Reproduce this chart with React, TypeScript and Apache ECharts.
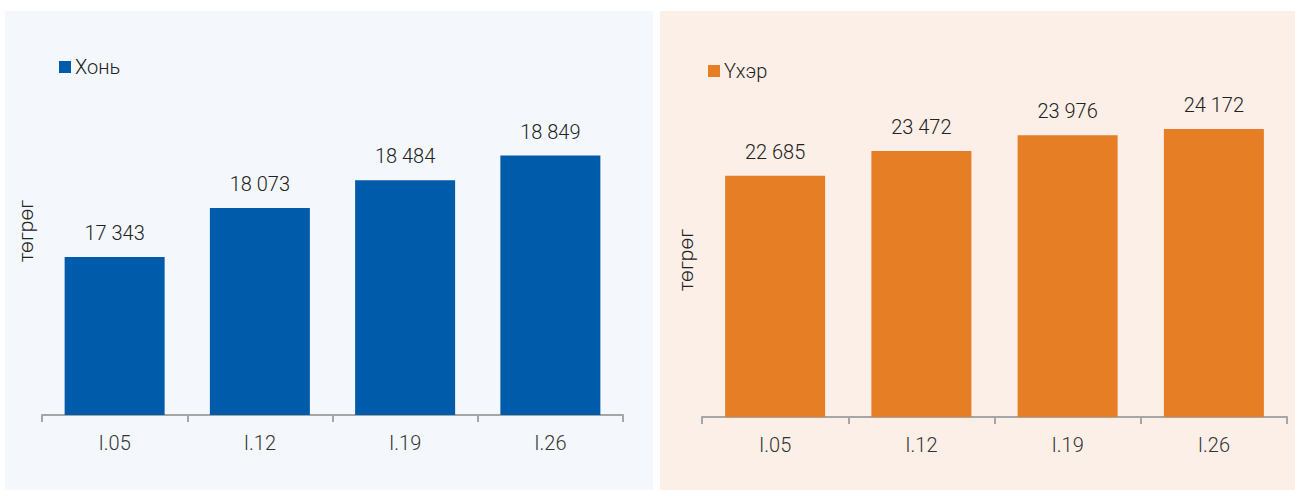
import React, { useEffect, useRef } from "react";
import * as echarts from "echarts";

const categories = ["I.05", "I.12", "I.19", "I.26"];
const sheepValues = [17343, 18073, 18484, 18849];
const cattleValues = [22685, 23472, 23976, 24172];
const sheepName = "Хонь";
const cattleName = "Үхэр";
const unitName = "төгрөг";

const fmt = (v: number) => {
  const s = String(Math.round(v));
  return s.replace(/\B(?=(\d{3})+(?!\d))/g, " ");
};

const FONT = "Roboto";
const W = 300;

export default function App() {
  const ref = useRef<HTMLDivElement>(null);
  useEffect(() => {
    document.body.style.margin = "0";
    const chart = echarts.init(ref.current!, null, { renderer: "svg" });
    const axisLineStyle = { color: "#a6a6a6", width: 2 };
    const xAxisBase = (gridIndex: number) => ({
      type: "category",
      gridIndex,
      data: categories,
      axisLine: { show: true, lineStyle: axisLineStyle },
      axisTick: { show: true, length: 7, lineStyle: axisLineStyle },
      axisLabel: { color: "#333", fontSize: 20, fontFamily: FONT, fontWeight: W, margin: 18 },
    });
    const yAxisBase = (gridIndex: number, max: number) => ({
      type: "value",
      gridIndex,
      min: 15000,
      max,
      axisLine: { show: false },
      axisTick: { show: false },
      axisLabel: { show: false },
      splitLine: { show: false },
    });
    const labelCfg = {
      show: true,
      position: "top",
      distance: 14,
      color: "#222",
      fontSize: 20,
      fontFamily: FONT,
      fontWeight: W,
      formatter: (p: any) => fmt(p.value),
    };
    const legendText = { fontSize: 20, color: "#222", fontFamily: FONT, fontWeight: W, padding: [0, 0, 0, -1] };
    chart.setOption({
      animation: false,
      textStyle: { fontFamily: FONT },
      graphic: [
        { type: "rect", z: -10, shape: { x: 5, y: 11, width: 648, height: 479 }, style: { fill: "#f4f8fc" } },
        { type: "rect", z: -10, shape: { x: 660, y: 11, width: 635, height: 479 }, style: { fill: "#fcefe7" } },
        {
          type: "text",
          x: 26,
          y: 231,
          rotation: Math.PI / 2,
          style: { text: unitName, fontSize: 21, fontFamily: FONT, fontWeight: W, fill: "#222", align: "center", verticalAlign: "middle" },
        },
        {
          type: "text",
          x: 686,
          y: 260,
          rotation: Math.PI / 2,
          style: { text: unitName, fontSize: 21, fontFamily: FONT, fontWeight: W, fill: "#222", align: "center", verticalAlign: "middle" },
        },
      ],
      legend: [
        {
          data: [sheepName],
          left: 59,
          top: 57,
          icon: "rect",
          itemWidth: 12,
          itemHeight: 12,
          textStyle: legendText,
          padding: 0,
        },
        {
          data: [cattleName],
          left: 708,
          top: 61,
          icon: "rect",
          itemWidth: 12,
          itemHeight: 12,
          textStyle: legendText,
          padding: 0,
        },
      ],
      grid: [
        { left: 42, right: 672, top: 78, bottom: 75, containLabel: false },
        { left: 702, right: 8, top: 103, bottom: 73, containLabel: false },
      ],
      xAxis: [xAxisBase(0), xAxisBase(1)],
      yAxis: [yAxisBase(0, 20000), yAxisBase(1, 25000)],
      series: [
        {
          name: sheepName,
          type: "bar",
          xAxisIndex: 0,
          yAxisIndex: 0,
          data: sheepValues,
          barWidth: 100,
          itemStyle: { color: "#005baa" },
          label: labelCfg,
        },
        {
          name: cattleName,
          type: "bar",
          xAxisIndex: 1,
          yAxisIndex: 1,
          data: cattleValues,
          barWidth: 100,
          itemStyle: { color: "#e57e25" },
          label: labelCfg,
        },
      ],
    });
    return () => chart.dispose();
  }, []);
  return <div ref={ref} style={{ width: 1295, height: 490 }} />;
}
